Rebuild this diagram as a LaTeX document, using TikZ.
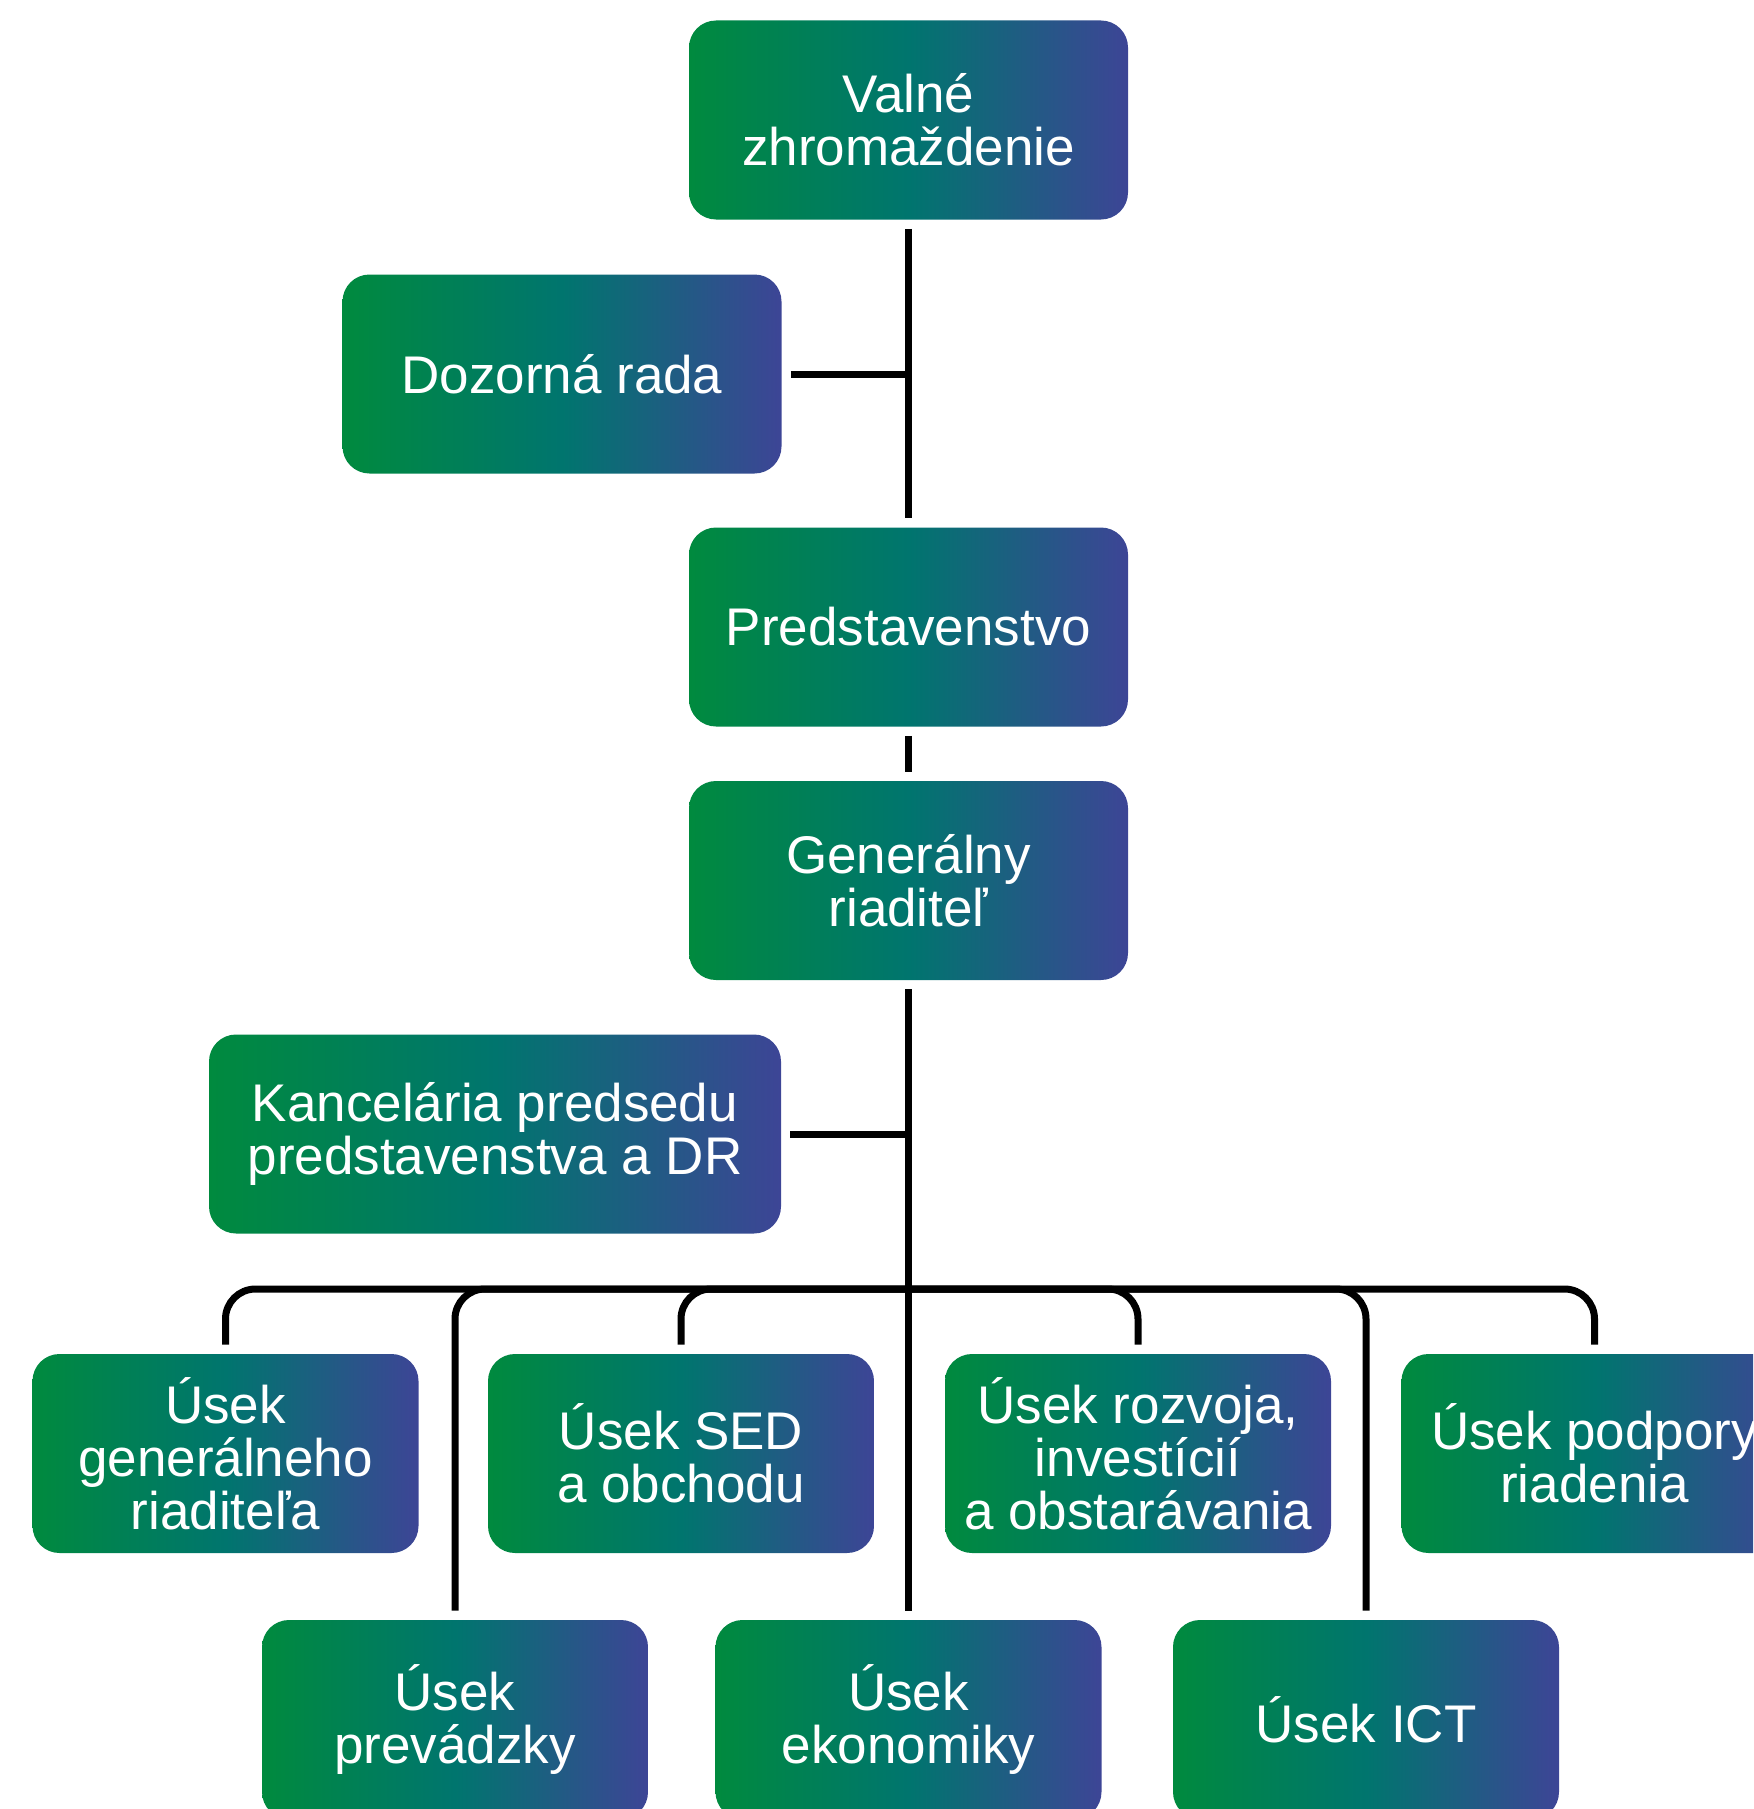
\documentclass[tikz,border=0pt]{standalone}
\usepackage{fontspec}
\setmainfont{Liberation Sans}
\definecolor{gA}{HTML}{008A3E}
\definecolor{gB}{HTML}{00756E}
\definecolor{gC}{HTML}{3D4596}
\begin{document}
\begin{tikzpicture}[x=0.5pt,y=-0.5pt,
  box/.style={rectangle, rounded corners=13.5pt, inner sep=0pt, minimum height=99.5pt,
    left color=gA, right color=gC, middle color=gB, text=white, align=center,
    font=\fontsize{26.5}{26.5}\selectfont},
  wide/.style={minimum width=219.5pt},
  unit/.style={minimum width=193pt},
  link/.style={line width=3.5pt, black},
]
\clip (0,0) rectangle (1753,1809);
\node[box,wide] (valne) at (908.5,120) {Valné\\zhromaždenie};
\node[box,wide] (dozor) at (562,374) {Dozorná rada};
\node[box,wide] (pred) at (908.5,627) {Predstavenstvo};
\node[box,wide] (gen) at (908.5,880.5) {Generálny\\riaditeľ};
\node[box,minimum width=286pt] (kanc) at (495,1134) {Kancelária predsedu\\predstavenstva a DR};
\node[box,unit] (ug) at (225.5,1453.5) {Úsek\\generálneho\\riaditeľa};
\node[box,unit] (sed) at (681,1453.5) {Úsek SED\\a obchodu};
\node[box,unit] (rozv) at (1138,1453.5) {Úsek rozvoja,\\investícií\\a obstarávania};
\node[box,unit] (podp) at (1594.5,1453.5) {Úsek podpory\\riadenia};
\node[box,unit] (prev) at (455,1719.5) {Úsek\\prevádzky};
\node[box,unit] (ekon) at (908.5,1719.5) {Úsek\\ekonomiky};
\node[box,unit] (ict) at (1366,1719.5) {Úsek ICT};
\draw[link, shorten <=4.5pt, shorten >=4.5pt] (valne) -- (pred);
\draw[link, shorten <=4.5pt] (dozor.east) -- (dozor.east -| valne.south);
\draw[link, shorten <=4.5pt, shorten >=4.5pt] (pred) -- (gen);
\draw[link, shorten <=4.5pt, shorten >=4.5pt] (gen) -- (ekon);
\draw[link, shorten <=4.5pt] (kanc.east) -- (kanc.east -| gen.south);
\coordinate (bus) at (908.5,1289);
\foreach \t in {ug,sed,rozv,podp,prev,ict}
  \draw[link, rounded corners=15pt] (bus) -| ([yshift=4.5pt]\t.north);
\end{tikzpicture}
\end{document}
